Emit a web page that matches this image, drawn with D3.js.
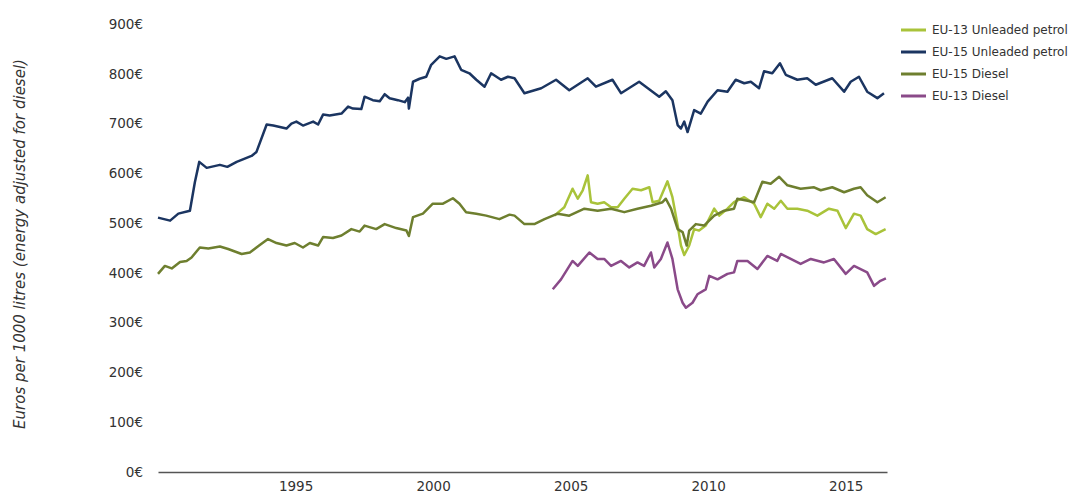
<!DOCTYPE html>
<html>
<head>
<meta charset="utf-8">
<script src="https://cdn.jsdelivr.net/npm/d3@7"></script>
<style>
  html, body { margin: 0; padding: 0; background: #fff; }
  svg { display: block; }
  text { font-family: "DejaVu Sans", Verdana, sans-serif; fill: #333; }
</style>
</head>
<body>
<svg id="chart" width="1085" height="495"></svg>
<script>
// ---- Data (year, €/1000 litres) ----
const seriesNames = ["EU-13 Unleaded petrol", "EU-15 Unleaded petrol", "EU-15 Diesel", "EU-13 Diesel"];
const seriesColors = ["#a9c33a", "#1b3561", "#6e7f2f", "#8a4a89"];

const eu15Petrol = [
  [1990.0,511],[1990.44,505],[1990.74,519],[1991.16,525],[1991.34,582],[1991.5,623],[1991.77,611],
  [1992.25,617],[1992.52,613],[1992.86,623],[1993.4,635],[1993.58,643],[1993.95,698],[1994.19,696],
  [1994.67,690],[1994.85,700],[1995.03,704],[1995.27,696],[1995.64,704],[1995.82,698],[1996.0,718],
  [1996.24,716],[1996.67,720],[1996.91,734],[1997.09,730],[1997.39,729],[1997.51,754],[1997.81,747],
  [1998.06,745],[1998.24,759],[1998.42,751],[1998.72,747],[1998.97,743],[1999.09,752],[1999.12,730],
  [1999.27,784],[1999.51,790],[1999.75,794],[1999.93,818],[2000.24,835],[2000.48,830],[2000.78,835],
  [2001.02,808],[2001.32,801],[2001.57,788],[2001.87,774],[2002.11,801],[2002.47,788],[2002.72,794],
  [2002.96,791],[2003.32,761],[2003.93,771],[2004.47,788],[2004.95,767],[2005.62,791],[2005.92,774],
  [2006.52,788],[2006.83,761],[2007.49,784],[2008.22,754],[2008.46,765],[2008.7,747],[2008.89,697],
  [2009.01,690],[2009.13,704],[2009.25,683],[2009.49,727],[2009.73,720],[2009.98,744],[2010.34,767],
  [2010.7,764],[2011.0,788],[2011.31,781],[2011.55,784],[2011.85,771],[2012.03,805],[2012.33,801],
  [2012.61,821],[2012.82,798],[2013.24,788],[2013.6,791],[2013.91,778],[2014.51,791],[2014.94,764],
  [2015.18,784],[2015.48,794],[2015.78,764],[2016.15,751],[2016.39,761]
];

const eu15Diesel = [
  [1990.0,398],[1990.25,414],[1990.5,409],[1990.8,422],[1991.04,424],[1991.22,431],[1991.52,451],
  [1991.83,449],[1992.25,453],[1992.55,448],[1993.04,438],[1993.34,441],[1993.7,456],[1994.0,468],
  [1994.31,460],[1994.67,455],[1994.97,460],[1995.27,451],[1995.52,460],[1995.82,455],[1996.0,472],
  [1996.36,470],[1996.67,475],[1997.03,488],[1997.33,483],[1997.51,495],[1997.93,488],[1998.24,498],
  [1998.66,490],[1999.03,485],[1999.12,474],[1999.27,512],[1999.63,519],[1999.99,539],[2000.36,539],
  [2000.72,550],[2000.96,539],[2001.2,522],[2001.57,519],[2001.93,515],[2002.41,508],[2002.78,517],
  [2002.96,515],[2003.32,498],[2003.68,498],[2004.05,508],[2004.53,519],[2004.95,515],[2005.5,529],
  [2005.98,525],[2006.47,529],[2006.95,522],[2007.43,529],[2007.92,535],[2008.34,542],[2008.46,549],
  [2008.65,529],[2008.89,488],[2009.07,482],[2009.22,455],[2009.31,485],[2009.55,498],[2009.85,495],
  [2010.22,515],[2010.58,525],[2010.94,529],[2011.06,549],[2011.43,545],[2011.67,542],[2011.97,583],
  [2012.27,579],[2012.58,593],[2012.88,576],[2013.36,569],[2013.85,572],[2014.09,566],[2014.51,572],
  [2014.94,562],[2015.3,569],[2015.54,572],[2015.78,556],[2016.15,542],[2016.45,552]
];

const eu13Petrol = [
  [2004.41,515],[2004.77,532],[2005.07,569],[2005.26,549],[2005.44,566],[2005.62,596],[2005.74,542],
  [2005.98,539],[2006.22,542],[2006.47,532],[2006.71,532],[2006.95,549],[2007.25,569],[2007.56,566],
  [2007.86,572],[2007.98,542],[2008.22,545],[2008.52,584],[2008.7,552],[2008.89,495],[2009.01,455],
  [2009.13,436],[2009.31,455],[2009.49,488],[2009.67,485],[2009.91,495],[2010.22,529],[2010.4,515],
  [2010.7,529],[2010.94,542],[2011.31,552],[2011.67,539],[2011.91,512],[2012.15,539],[2012.4,529],
  [2012.64,545],[2012.88,529],[2013.24,529],[2013.6,525],[2013.97,515],[2014.39,529],[2014.7,525],
  [2015.0,490],[2015.3,519],[2015.54,515],[2015.78,488],[2016.09,478],[2016.45,488]
];

const eu13Diesel = [
  [2004.35,367],[2004.65,387],[2005.07,424],[2005.26,414],[2005.68,441],[2005.98,428],[2006.22,428],
  [2006.47,414],[2006.83,424],[2007.13,411],[2007.43,421],[2007.67,414],[2007.92,441],[2008.04,411],
  [2008.28,428],[2008.52,461],[2008.7,428],[2008.89,367],[2009.07,340],[2009.19,330],[2009.43,340],
  [2009.61,357],[2009.91,367],[2010.04,394],[2010.34,387],[2010.7,398],[2010.94,401],[2011.06,424],
  [2011.43,424],[2011.79,408],[2012.15,434],[2012.51,424],[2012.64,438],[2013.0,428],[2013.36,418],
  [2013.73,428],[2014.21,421],[2014.57,428],[2015.0,398],[2015.3,414],[2015.78,401],[2016.03,374],
  [2016.26,384],[2016.46,389]
];

const xTickYears = [1995, 2000, 2005, 2010, 2015];
const yTickValues = [0, 100, 200, 300, 400, 500, 600, 700, 800, 900];
const yAxisTitle = "Euros per 1000 litres (energy adjusted for diesel)";

// ---- Chart ----
const svg = d3.select("#chart");
const x = d3.scaleLinear().domain([1990, 2016.5]).range([158, 887]);
const y = d3.scaleLinear().domain([0, 900]).range([472, 24]);

// y axis labels (no line, no ticks)
const yAxis = d3.axisLeft(y).tickValues(yTickValues).tickSize(0).tickPadding(0)
  .tickFormat(d => d + "€");
const gy = svg.append("g").attr("transform", "translate(143,0)").call(yAxis);
gy.select(".domain").remove();
gy.selectAll("text").style("font-size", "13.5px").style("font-family", "DejaVu Sans, Verdana, sans-serif").attr("fill", "#333");

// x axis
const xAxis = d3.axisBottom(x).tickValues(xTickYears).tickSize(0).tickPadding(9)
  .tickFormat(d3.format("d"));
const gx = svg.append("g").attr("transform", "translate(0,472)").call(xAxis);
gx.select(".domain").attr("stroke", "#555").attr("stroke-width", 1.3);
gx.selectAll("text").style("font-size", "13.5px").style("font-family", "DejaVu Sans, Verdana, sans-serif").attr("fill", "#333");

// y axis title
svg.append("text")
  .attr("transform", "translate(25,244) rotate(-90)")
  .attr("text-anchor", "middle")
  .style("font-size", "15px")
  .style("font-style", "italic")
  .text(yAxisTitle);

// lines
const line = d3.line().x(d => x(d[0])).y(d => y(d[1]));
const drawOrder = [
  [eu13Petrol, seriesColors[0]],
  [eu15Petrol, seriesColors[1]],
  [eu15Diesel, seriesColors[2]],
  [eu13Diesel, seriesColors[3]]
];
drawOrder.forEach(([data, color]) => {
  svg.append("path").datum(data).attr("d", line).attr("fill", "none")
    .attr("stroke", color).attr("stroke-width", 2.5).attr("stroke-linejoin", "round");
});

// legend
const legend = svg.append("g").attr("transform", "translate(901,30)");
seriesNames.forEach((name, i) => {
  const g = legend.append("g").attr("transform", `translate(0,${i * 22})`);
  g.append("line").attr("x1", 0).attr("x2", 25).attr("y1", 0).attr("y2", 0)
    .attr("stroke", seriesColors[i]).attr("stroke-width", 3);
  g.append("text").attr("x", 31).attr("y", 0).attr("dy", "0.35em")
    .style("font-size", "12px").text(name);
});
</script>
</body>
</html>
